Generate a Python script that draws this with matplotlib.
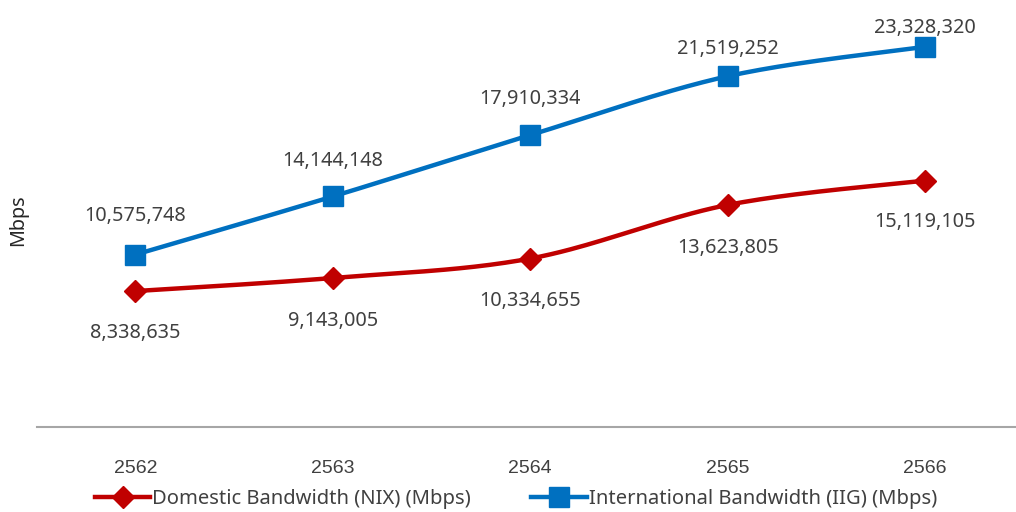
import matplotlib
matplotlib.use("Agg")
import matplotlib.pyplot as plt
import numpy as np
from matplotlib.lines import Line2D

years = ["2562", "2563", "2564", "2565", "2566"]
domestic = [8338635, 9143005, 10334655, 13623805, 15119105]
international = [10575748, 14144148, 17910334, 21519252, 23328320]

# label offsets (pixels) above/below each point, as placed in the reference
intl_label_dy = [39, 35, 36, 27, 19]
dom_label_dy = [-42, -43, -42, -43, -41]

RED = "#C00000"
BLUE = "#0070C0"
TXT = "#404040"
LABEL_FONT = "Noto Sans"

def smooth(xs, ys, n=40):
    # Excel-style smoothed line: cubic Bezier segments with Catmull-Rom control points
    xs = np.asarray(xs, float); ys = np.asarray(ys, float)
    P = np.column_stack([xs, ys])
    out = []
    for i in range(len(P) - 1):
        p0 = P[i - 1] if i > 0 else P[i]
        p1 = P[i]; p2 = P[i + 1]
        p3 = P[i + 2] if i + 2 < len(P) else P[i + 1]
        c1 = p1 + (p2 - p0) / 6.0
        c2 = p2 - (p3 - p1) / 6.0
        t = np.linspace(0, 1, n)[:, None]
        seg = (1 - t) ** 3 * p1 + 3 * (1 - t) ** 2 * t * c1 + 3 * (1 - t) * t ** 2 * c2 + t ** 3 * p2
        out.append(seg if i == 0 else seg[1:])
    s = np.vstack(out)
    return s[:, 0], s[:, 1]

W, H = 1016, 512
fig = plt.figure(figsize=(W / 100, H / 100), dpi=100)
left, right, bottom, top = 37, 1016, 427, 19.5
ax = fig.add_axes([left / W, (H - bottom) / H, (right - left) / W, (bottom - top) / H])

x = np.arange(len(years))
for vals, col, mk, ms in [(domestic, RED, "D", 11.5), (international, BLUE, "s", 14)]:
    sx, sy = smooth(x, vals)
    ax.plot(sx, sy, color=col, lw=3.2, solid_capstyle="round", zorder=2)
    ax.plot(x, vals, linestyle="none", marker=mk, ms=ms, color=col, zorder=3)

for xi, v, dy in zip(x, international, intl_label_dy):
    ax.annotate(f"{v:,}", (xi, v), xytext=(0, dy * 0.72), textcoords="offset points",
                ha="center", va="center", fontsize=14.3, color=TXT, family=LABEL_FONT, zorder=4)
for xi, v, dy in zip(x, domestic, dom_label_dy):
    ax.annotate(f"{v:,}", (xi, v), xytext=(0, dy * 0.72), textcoords="offset points",
                ha="center", va="center", fontsize=14.3, color=TXT, family=LABEL_FONT, zorder=4)

ax.set_xlim(-0.498, 4.46)
ax.set_ylim(0, 25_000_000)
ax.set_xticks(x)
ax.set_xticklabels(years, fontsize=14, color=TXT, family="Liberation Sans")
ax.tick_params(axis="x", length=0, pad=24)
ax.set_yticks([])
for s in ["top", "right", "left"]:
    ax.spines[s].set_visible(False)
ax.spines["bottom"].set_color("#A6A6A6")
ax.spines["bottom"].set_linewidth(1.5)

fig.text(18 / W, 1 - 220 / H, "Mbps", rotation=90, ha="center", va="center",
         fontsize=14.3, color="#262626", family=LABEL_FONT)

handles = [
    Line2D([], [], color=RED, lw=3.2, marker="D", ms=11.5),
    Line2D([], [], color=BLUE, lw=3.2, marker="s", ms=14),
]
labels = ["Domestic Bandwidth (NIX) (Mbps)", "International Bandwidth (IIG) (Mbps)"]
fig.legend(handles, labels, loc="center", bbox_to_anchor=(516 / W, 1 - 499 / H),
           ncol=2, frameon=False, prop={"family": LABEL_FONT, "size": 14.5},
           handlelength=2.75, handletextpad=0.1, columnspacing=3.0, labelcolor=TXT)

fig.savefig("out.png", dpi=100)
